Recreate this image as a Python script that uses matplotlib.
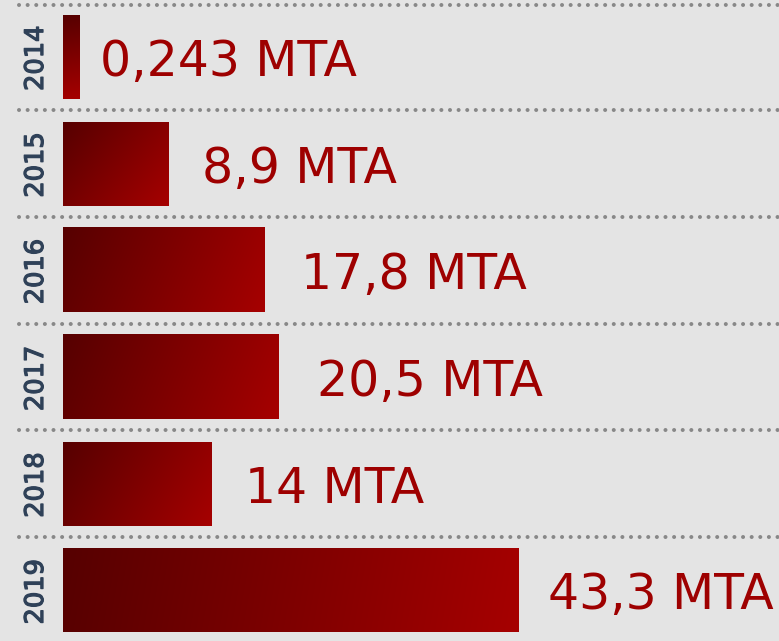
import matplotlib
matplotlib.use("Agg")
import matplotlib.pyplot as plt
import matplotlib.patheffects as pe
import numpy as np
from matplotlib.colors import to_rgb

# ---------- data ----------
years = ["2014", "2015", "2016", "2017", "2018", "2019"]
bar_len = [1.6, 10.0, 19.1, 20.5, 14.1, 43.3]          # visible bar lengths
labels = ["0,243 MTA", "8,9 MTA", "17,8 MTA", "20,5 MTA", "14 MTA", "43,3 MTA"]

# ---------- style ----------
BG = "#e4e4e4"
C0, C1 = np.array(to_rgb("#560000")), np.array(to_rgb("#a60000"))
TXT = "#9e0000"
YEAR_C = "#2f4158"
label_pad = [20, 34, 37, 38, 34, 29]   # px gap between bar end and label

W, H, DPI = 779, 641, 100
fig = plt.figure(figsize=(W / DPI, H / DPI), dpi=DPI, facecolor=BG)
ax = fig.add_axes([0, 0, 1, 1], facecolor=BG)

px = 456 / 43.3          # pixels per unit
x0 = 63                  # pixel of x=0
row = 106.7              # pixels per row
y0 = 57.0                # pixel of first row centre
BAR_PX = 84
ax.set_xlim(-x0 / px, (W - x0) / px)
ax.set_ylim((H - y0) / row, -y0 / row)
bh = BAR_PX / row

n = 96
u, v = np.meshgrid(np.linspace(0, 1, n), np.linspace(0, 1, n))
thick = [pe.withStroke(linewidth=0.9, foreground=YEAR_C)]

for i, (yr, L, lab) in enumerate(zip(years, bar_len, labels)):
    # gradient along the bar's pixel diagonal (dark top-left -> red bottom-right)
    wpx = L * px
    t = ((u * wpx ** 2 + v * BAR_PX ** 2) / (wpx ** 2 + BAR_PX ** 2))[..., None]
    grad = C0 * (1 - t) + C1 * t
    ax.imshow(grad, extent=(0, L, i + bh / 2, i - bh / 2), aspect="auto",
              interpolation="bilinear", zorder=2)
    ax.text(L + label_pad[i] / px, i + 0.045, lab, fontsize=35.2, color=TXT,
            va="center", ha="left", family="DejaVu Sans", zorder=3)
    ax.text(-27 / px, i + 0.01, yr, rotation=90, fontsize=18.5, color=YEAR_C,
            va="center", ha="center", family="DejaVu Sans", path_effects=thick)

# dotted separators
xs = -44.5 / px
for k in range(len(years)):
    yy = k - 0.5 if k else -0.487
    ax.plot([xs, (W - x0) / px + 1], [yy, yy], color="#888888", lw=2.9,
            linestyle=(0, (0.01, 2.13)), dash_capstyle="round", zorder=1)

ax.set_ylim((H - y0) / row, -y0 / row)
ax.axis("off")
fig.savefig("out.png", dpi=DPI, facecolor=BG)
